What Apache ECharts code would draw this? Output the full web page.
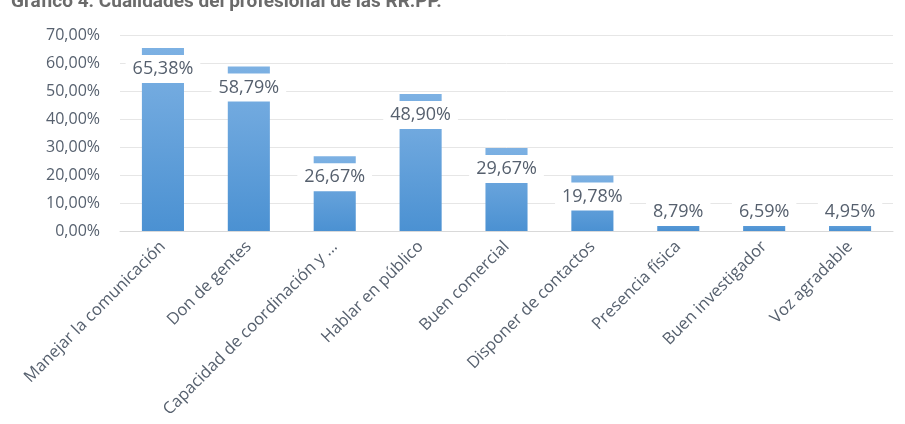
<!DOCTYPE html>
<html>
<head>
<meta charset="utf-8">
<script src="https://cdn.jsdelivr.net/npm/echarts@6/dist/echarts.min.js"></script>
<style>html,body{margin:0;padding:0;background:#fff}#c{width:905px;height:424px}</style>
</head>
<body>
<div id="c"></div>
<script>
const titleText = 'Gráfico 4. Cualidades del profesional de las RR.PP.';
const categories = ['Manejar la comunicación','Don de gentes','Capacidad de coordinación y ...','Hablar en público','Buen comercial','Disponer de contactos','Presencia física','Buen investigador','Voz agradable'];
const values = [65.38, 58.79, 26.67, 48.90, 29.67, 19.78, 8.79, 6.59, 4.95];
const yTicks = {min: 0, max: 70, interval: 10};

const textColor = '#56606e';
const fmt = v => v.toFixed(2).replace('.', ',') + '%';

const chart = echarts.init(document.getElementById('c'));
chart.setOption({
  animation: false,
  title: {
    text: titleText, left: 6, top: -12,
    textStyle: {fontFamily: 'Roboto', fontWeight: 'bold', fontSize: 19, color: '#6b6b6b'}
  },
  grid: {left: 120, right: 12, top: 35, bottom: 193},
  xAxis: {
    type: 'category', data: categories,
    axisTick: {show: false},
    axisLine: {lineStyle: {color: '#d9d9d9'}},
    axisLabel: {interval: 0, rotate: 45, fontSize: 16.5, color: textColor, fontFamily: 'Open Sans', margin: 13}
  },
  yAxis: {
    type: 'value', min: yTicks.min, max: yTicks.max, interval: yTicks.interval,
    axisLine: {show: false}, axisTick: {show: false},
    splitLine: {lineStyle: {color: '#e6e6e6'}},
    axisLabel: {formatter: fmt, fontSize: 16, color: textColor, fontFamily: 'Open Sans', margin: 20}
  },
  series: [{
    type: 'bar', barWidth: '49%',
    itemStyle: {
      color: new echarts.graphic.LinearGradient(0, 0, 0, 1, [
        {offset: 0, color: '#7db1e3'}, {offset: 1, color: '#4b91d2'}
      ])
    },
    label: {
      show: true, position: 'insideTop', distance: 7,
      formatter: p => fmt(p.value),
      backgroundColor: '#ffffff', padding: [5, 7], lineHeight: 18,
      fontSize: 18, color: textColor, fontFamily: 'Open Sans'
    },
    data: values.map(v => v < 14.3
      ? {value: v, label: {position: 'insideBottom', distance: 5}}
      : v)
  }]
});
</script>
</body>
</html>
